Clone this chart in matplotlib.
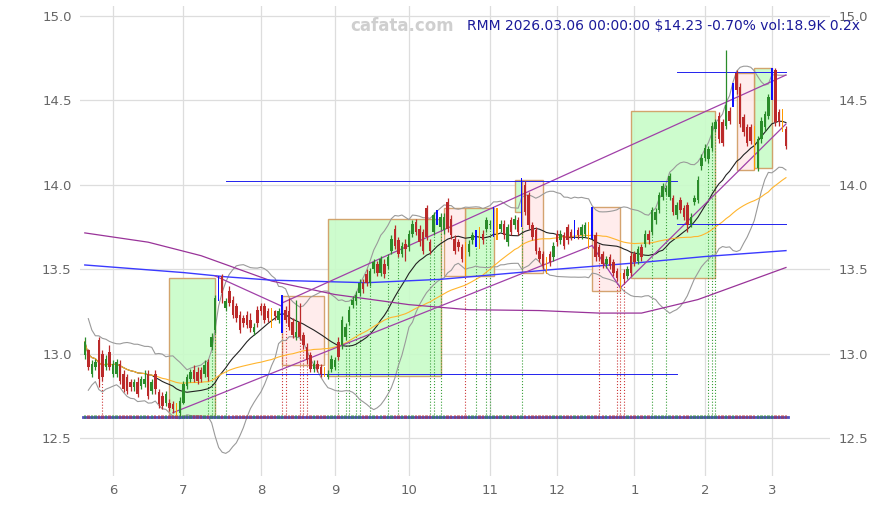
import numpy as np
import pandas as pd
import matplotlib
matplotlib.use("Agg")
import matplotlib.pyplot as plt
from matplotlib.patches import Rectangle

# trading days shown (US market holidays removed)
HOLIDAYS = ["2025-05-26", "2025-06-19", "2025-07-04", "2025-09-01", "2025-11-27",
            "2025-12-25", "2026-01-01", "2026-01-19", "2026-02-16"]
dates = pd.bdate_range("2025-05-20", "2026-03-06")
dates = dates[~dates.isin(pd.to_datetime(HOLIDAYS))]

OPEN = [12.99, 13.02, 12.88, 12.92, 13.08, 13.00, 12.92, 13.01, 12.88, 12.88,
        12.94, 12.88, 12.86, 12.83, 12.80, 12.83, 12.81, 12.82, 12.88, 12.78,
        12.88, 12.77, 12.75, 12.71, 12.71, 12.70, 12.69, 12.65, 12.71, 12.81,
        12.85, 12.90, 12.89, 12.90, 12.88, 12.95, 13.04, 13.14, 13.33, 13.46,
        13.27, 13.37, 13.32, 13.28, 13.23, 13.21, 13.23, 13.20, 13.13, 13.26,
        13.28, 13.28, 13.25, 13.25, 13.25, 13.20, 13.22, 13.26, 13.25, 13.19,
        13.10, 13.19, 13.11, 13.04, 12.99, 12.91, 12.94, 12.92, 12.90, 12.86,
        12.91, 12.92, 13.07, 13.05, 13.10, 13.19, 13.29, 13.31, 13.36, 13.42,
        13.47, 13.42, 13.50, 13.53, 13.48, 13.53, 13.52, 13.61, 13.74, 13.67,
        13.59, 13.65, 13.63, 13.71, 13.78, 13.74, 13.72, 13.86, 13.66, 13.72,
        13.77, 13.75, 13.73, 13.90, 13.80, 13.68, 13.66, 13.63, 13.65, 13.60,
        13.67, 13.64, 13.73, 13.71, 13.74, 13.76, 13.70, 13.85, 13.74, 13.77,
        13.66, 13.79, 13.76, 13.79, 13.76, 14.00, 13.94, 13.76, 13.73, 13.61,
        13.59, 13.55, 13.59, 13.57, 13.71, 13.67, 13.70, 13.75, 13.72, 13.69,
        13.73, 13.70, 13.71, 13.76, 13.69, 13.70, 13.63, 13.59, 13.53, 13.57,
        13.54, 13.49, 13.46, 13.48, 13.46, 13.58, 13.59, 13.55, 13.63, 13.65,
        13.71, 13.72, 13.79, 13.85, 13.93, 13.96, 13.93, 13.92, 13.82, 13.91,
        13.86, 13.88, 13.77, 13.90, 13.91, 14.11, 14.16, 14.15, 14.22, 14.33,
        14.41, 14.37, 14.35, 14.44, 14.47, 14.66, 14.58, 14.40, 14.34, 14.34,
        14.33, 14.10, 14.27, 14.34, 14.41, 14.51, 14.68, 14.43, 14.43, 14.33]
HIGH = [13.10, 13.03, 12.96, 12.97, 13.10, 13.02, 12.99, 13.05, 12.96, 12.97,
        12.96, 12.90, 12.88, 12.85, 12.85, 12.86, 12.87, 12.90, 12.90, 12.85,
        12.90, 12.79, 12.77, 12.78, 12.73, 12.72, 12.71, 12.74, 12.84, 12.88,
        12.91, 12.93, 12.92, 12.92, 12.96, 12.97, 13.12, 13.35, 13.46, 13.47,
        13.33, 13.40, 13.34, 13.30, 13.25, 13.23, 13.25, 13.24, 13.18, 13.28,
        13.30, 13.30, 13.27, 13.27, 13.26, 13.27, 13.35, 13.28, 13.33, 13.21,
        13.32, 13.30, 13.13, 13.06, 13.01, 12.96, 12.96, 12.94, 12.92, 12.90,
        12.99, 12.98, 13.10, 13.22, 13.18, 13.28, 13.34, 13.37, 13.44, 13.44,
        13.50, 13.51, 13.56, 13.55, 13.58, 13.56, 13.59, 13.70, 13.76, 13.69,
        13.66, 13.68, 13.73, 13.79, 13.80, 13.76, 13.74, 13.88, 13.68, 13.84,
        13.85, 13.83, 13.83, 13.92, 13.82, 13.70, 13.68, 13.65, 13.66, 13.67,
        13.72, 13.73, 13.75, 13.73, 13.81, 13.79, 13.87, 13.86, 13.79, 13.79,
        13.77, 13.81, 13.82, 13.81, 14.04, 14.02, 13.96, 13.78, 13.75, 13.63,
        13.61, 13.57, 13.61, 13.66, 13.73, 13.73, 13.72, 13.77, 13.74, 13.79,
        13.75, 13.77, 13.78, 13.78, 13.87, 13.72, 13.65, 13.61, 13.58, 13.59,
        13.56, 13.51, 13.48, 13.50, 13.52, 13.60, 13.61, 13.64, 13.65, 13.73,
        13.73, 13.87, 13.86, 13.96, 14.01, 14.00, 14.07, 13.94, 13.90, 13.93,
        13.88, 13.90, 13.83, 13.94, 14.05, 14.18, 14.24, 14.23, 14.37, 14.39,
        14.43, 14.39, 14.80, 14.46, 14.60, 14.68, 14.60, 14.42, 14.36, 14.36,
        14.35, 14.29, 14.40, 14.44, 14.54, 14.69, 14.69, 14.45, 14.45, 14.35]
LOW = [12.97, 12.90, 12.86, 12.90, 12.80, 12.84, 12.90, 12.90, 12.86, 12.86,
       12.82, 12.77, 12.76, 12.78, 12.78, 12.74, 12.79, 12.80, 12.73, 12.76,
       12.76, 12.68, 12.67, 12.69, 12.66, 12.65, 12.63, 12.63, 12.70, 12.79,
       12.83, 12.83, 12.82, 12.83, 12.86, 12.84, 13.02, 13.12, 13.31, 13.30,
       13.25, 13.28, 13.21, 13.19, 13.12, 13.16, 13.15, 13.13, 13.11, 13.16,
       13.23, 13.18, 13.19, 13.15, 13.20, 13.18, 13.12, 13.18, 13.14, 13.09,
       13.08, 13.08, 13.03, 12.94, 12.89, 12.89, 12.89, 12.86, 12.86, 12.85,
       12.89, 12.90, 12.96, 13.03, 13.08, 13.17, 13.27, 13.29, 13.34, 13.36,
       13.40, 13.40, 13.48, 13.46, 13.46, 13.45, 13.50, 13.59, 13.62, 13.57,
       13.57, 13.55, 13.61, 13.69, 13.70, 13.64, 13.59, 13.67, 13.59, 13.70,
       13.76, 13.73, 13.71, 13.72, 13.68, 13.59, 13.61, 13.54, 13.46, 13.58,
       13.65, 13.63, 13.62, 13.65, 13.72, 13.74, 13.69, 13.67, 13.72, 13.68,
       13.64, 13.70, 13.74, 13.70, 13.75, 13.82, 13.74, 13.67, 13.59, 13.54,
       13.50, 13.47, 13.52, 13.55, 13.64, 13.65, 13.62, 13.65, 13.67, 13.68,
       13.68, 13.68, 13.69, 13.62, 13.68, 13.55, 13.55, 13.51, 13.51, 13.50,
       13.46, 13.43, 13.38, 13.42, 13.44, 13.46, 13.52, 13.53, 13.55, 13.63,
       13.65, 13.70, 13.77, 13.83, 13.91, 13.94, 13.91, 13.82, 13.80, 13.83,
       13.79, 13.72, 13.75, 13.88, 13.89, 14.09, 14.14, 14.13, 14.20, 14.31,
       14.25, 14.23, 14.33, 14.36, 14.46, 14.54, 14.34, 14.29, 14.23, 14.24,
       14.09, 14.08, 14.25, 14.32, 14.39, 14.50, 14.35, 14.35, 14.31, 14.21]
CLOSE = [13.07, 12.92, 12.94, 12.95, 12.85, 12.86, 12.97, 12.92, 12.94, 12.95,
         12.84, 12.79, 12.78, 12.80, 12.83, 12.76, 12.85, 12.85, 12.75, 12.83,
         12.79, 12.70, 12.69, 12.76, 12.68, 12.67, 12.65, 12.72, 12.82, 12.86,
         12.89, 12.85, 12.84, 12.85, 12.93, 12.86, 13.10, 13.33, 13.45, 13.36,
         13.31, 13.30, 13.23, 13.21, 13.14, 13.18, 13.17, 13.15, 13.16, 13.18,
         13.25, 13.20, 13.21, 13.18, 13.22, 13.25, 13.26, 13.20, 13.16, 13.11,
         13.13, 13.10, 13.05, 12.96, 12.91, 12.94, 12.91, 12.88, 12.88, 12.88,
         12.97, 12.96, 12.98, 13.20, 13.16, 13.26, 13.32, 13.35, 13.42, 13.38,
         13.42, 13.49, 13.54, 13.48, 13.56, 13.47, 13.57, 13.68, 13.64, 13.59,
         13.64, 13.62, 13.71, 13.77, 13.72, 13.66, 13.61, 13.69, 13.61, 13.82,
         13.84, 13.81, 13.81, 13.74, 13.70, 13.61, 13.63, 13.56, 13.53, 13.65,
         13.70, 13.71, 13.63, 13.67, 13.79, 13.77, 13.86, 13.69, 13.77, 13.70,
         13.75, 13.72, 13.80, 13.72, 14.00, 13.84, 13.76, 13.69, 13.61, 13.56,
         13.52, 13.50, 13.54, 13.64, 13.66, 13.71, 13.64, 13.67, 13.69, 13.78,
         13.70, 13.75, 13.76, 13.64, 13.86, 13.57, 13.57, 13.53, 13.56, 13.52,
         13.48, 13.45, 13.41, 13.44, 13.50, 13.48, 13.54, 13.62, 13.57, 13.71,
         13.67, 13.85, 13.84, 13.94, 13.99, 13.98, 14.05, 13.84, 13.88, 13.85,
         13.81, 13.76, 13.81, 13.92, 14.03, 14.16, 14.22, 14.21, 14.35, 14.37,
         14.27, 14.25, 14.47, 14.38, 14.59, 14.56, 14.36, 14.31, 14.25, 14.26,
         14.10, 14.27, 14.38, 14.42, 14.52, 14.68, 14.37, 14.37, 14.33, 14.23]

# candles drawn as highlighted thin bars
BLUE_IDX = [38, 56, 100, 111, 116, 124, 139, 144, 184, 195]
ORANGE_IDX = [26, 53, 68, 108, 112, 117, 131, 143, 152, 190, 198]

# dotted signal lines
GREEN_SIG = [35, 36, 37, 40, 72, 74, 75, 77, 78, 81, 86, 89, 98, 99, 101,
             111, 114, 115, 124, 161, 165, 177, 178, 179]
RED_SIG = [5, 56, 57, 61, 62, 63, 108, 146, 151, 152, 153]

# boxes: (start, end, low, high)
GREEN_BOXES = [(24, 37, 12.63, 13.45), (69, 101, 12.87, 13.80), (108, 116, 13.46, 13.86),
               (122, 124, 13.84, 14.03), (155, 179, 13.45, 14.44), (190, 195, 14.10, 14.69)]
RED_BOXES = [(56, 68, 12.93, 13.34), (102, 108, 13.46, 13.86), (124, 130, 13.48, 14.03),
             (144, 152, 13.37, 13.87), (185, 190, 14.09, 14.66)]

# long averages
LONG_P_IDX = [0, 18, 33, 53, 71, 92, 109, 129, 146, 158, 174, 199]
LONG_P_VAL = [13.715, 13.66, 13.58, 13.43, 13.35, 13.29, 13.26, 13.255, 13.24, 13.24, 13.32, 13.51]
LONG_B_IDX = [0, 28, 40, 53, 80, 101, 134, 158, 176, 199]
LONG_B_VAL = [13.525, 13.48, 13.455, 13.435, 13.42, 13.44, 13.50, 13.54, 13.575, 13.61]

# trend lines ((i0, p0), (i1, p1))
TRENDS = [((37, 13.46), (56, 13.28)), ((56, 13.30), (199, 14.65)), ((25, 12.65), (144, 13.64)),
          ((144, 13.64), (152, 13.39)), ((152, 13.39), (199, 14.36))]
LEVELS = [(40, 168, 14.02), (40, 168, 12.88), (168, 199, 14.67), (168, 199, 13.77)]
BASE = 12.625

GREEN = "#2a8c2a"
RED = "#bb2a2a"

fig = plt.figure(figsize=(8.75, 5.05), dpi=100)
ax = fig.add_axes([80 / 875, 29 / 505, 750 / 875, 470 / 505])

o, h, l, c = (np.array(a) for a in (OPEN, HIGH, LOW, CLOSE))
x = np.arange(len(c))
cs = pd.Series(c)
sma20 = cs.rolling(20, min_periods=1).mean()
sd20 = cs.rolling(20, min_periods=2).std()
sma50 = cs.rolling(50, min_periods=1).mean()

for s, e, lo, hi in GREEN_BOXES:
    ax.add_patch(Rectangle((s, lo), e - s, hi - lo, facecolor="#c8fcc8", edgecolor="#d09a60",
                           lw=1.0, alpha=0.9, zorder=1))
for s, e, lo, hi in RED_BOXES:
    ax.add_patch(Rectangle((s, lo), e - s, hi - lo, facecolor="#ffeaea", edgecolor="#d09a60",
                           lw=1.0, alpha=0.9, zorder=1))

# signal lines down to the volume base
for i in GREEN_SIG:
    ax.plot([i, i], [BASE, l[i]], ls=":", color="#3aa03a", lw=0.8, zorder=2)
for i in RED_SIG:
    ax.plot([i, i], [BASE, l[i]], ls=":", color="#cc3a3a", lw=0.8, zorder=2)

ax.plot(x, sma20 + 2 * sd20, color="#9a9a9a", lw=0.8, zorder=2)
ax.plot(x, sma20 - 2 * sd20, color="#9a9a9a", lw=0.8, zorder=2)
ax.plot(x, sma20, color="#222222", lw=0.8, zorder=2)
ax.plot(x, sma50, color="#ffb52e", lw=0.8, zorder=2)
ax.plot(LONG_P_IDX, LONG_P_VAL, color="#993399", lw=0.9, zorder=2)
ax.plot(LONG_B_IDX, LONG_B_VAL, color="#3a3aff", lw=1.0, zorder=2)
for (i0, p0), (i1, p1) in TRENDS:
    ax.plot([i0, i1], [p0, p1], color="#a040a8", lw=0.9, zorder=2)
for i0, i1, p in LEVELS:
    ax.plot([i0, i1], [p, p], color="#2222ee", lw=0.7, zorder=2)

# volume strip
up = c >= o
ax.plot([x[0] - 0.5, x[-1] + 0.5], [BASE, BASE], color="#5050c0", lw=2.0, zorder=2)
ax.bar(x, 0.02, bottom=BASE - 0.01, width=0.7, color=np.where(up, GREEN, RED), alpha=0.45, zorder=2)

special = np.isin(x, BLUE_IDX + ORANGE_IDX)
norm = ~special
col = np.where(up, GREEN, RED)
ax.vlines(x[norm], l[norm], h[norm], colors=col[norm], lw=0.9, zorder=3)
ax.bar(x[norm], np.maximum(np.abs(c - o), 0.008)[norm], bottom=np.minimum(o, c)[norm],
       width=0.72, color=col[norm], zorder=3)
ax.bar(BLUE_IDX, h[BLUE_IDX] - l[BLUE_IDX], bottom=l[BLUE_IDX], width=0.4, color="#1010ff", zorder=4)
ax.bar(ORANGE_IDX, h[ORANGE_IDX] - l[ORANGE_IDX], bottom=l[ORANGE_IDX], width=0.4,
       color="#ff9a00", zorder=4)

months = pd.Series(dates.month)
firsts = np.where(months.ne(months.shift()))[0][1:]
ax.set_xticks(firsts)
ax.set_xticklabels([str(dates[i].month) for i in firsts])
yt = [12.5, 13.0, 13.5, 14.0, 14.5, 15.0]
ax.set_yticks(yt)
ax.set_yticklabels([f"{v:.1f}" for v in yt])
ax.set_xlim(-1.36, 211.5)
ax.set_ylim(12.275, 15.059)
ax.tick_params(axis="both", length=0, labelcolor="#666666", labelsize=9.5)
ax.tick_params(axis="y", labelright=True, pad=6)
ax.tick_params(axis="x", pad=6)
ax.grid(color="#dddddd", lw=0.9)
ax.set_axisbelow(True)
for sp in ax.spines.values():
    sp.set_visible(False)

fig.text(402 / 875, 1 - 26 / 505, "cafata.com", color="#cfcfcf", fontsize=12,
         fontweight="bold", ha="center", va="center")
fig.text(860 / 875, 1 - 26 / 505, "RMM 2026.03.06 00:00:00 $14.23 -0.70% vol:18.9K 0.2x",
         color="#1a1a9a", fontsize=10, ha="right", va="center")

fig.savefig("out.png", dpi=100)
